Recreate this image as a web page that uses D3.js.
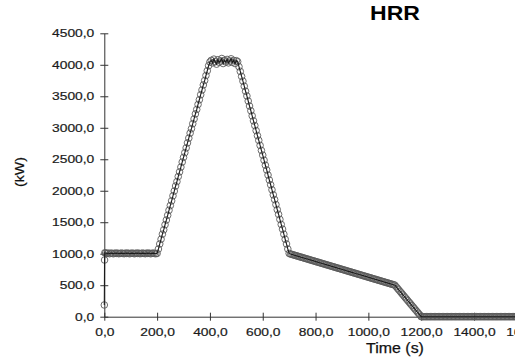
<!DOCTYPE html>
<html>
<head>
<meta charset="utf-8">
<script src="https://cdn.jsdelivr.net/npm/d3@7"></script>
<style>
  body { margin: 0; background: #fff; }
  svg { display: block; font-family: "Liberation Sans", Arial, sans-serif; }
</style>
</head>
<body>
<div id="chart"></div>
<script>
// HRR curve, time in seconds
const timeS = [
  0, 1, 2,
  5, 10, 15, 20, 25, 30, 35, 40, 45, 50, 55, 60, 65, 70, 75, 80, 85, 90, 95, 100,
  105, 110, 115, 120, 125, 130, 135, 140, 145, 150, 155, 160, 165, 170, 175, 180, 185, 190, 195, 200,
  205, 210, 215, 220, 225, 230, 235, 240, 245, 250, 255, 260, 265, 270, 275, 280, 285, 290, 295, 300,
  305, 310, 315, 320, 325, 330, 335, 340, 345, 350, 355, 360, 365, 370, 375, 380, 385, 390, 395, 400,
  405, 410, 415, 420, 425, 430, 435, 440, 445, 450, 455, 460, 465, 470, 475, 480, 485, 490, 495, 500, 505,
  510, 515, 520, 525, 530, 535, 540, 545, 550, 555, 560, 565, 570, 575, 580, 585, 590, 595, 600,
  605, 610, 615, 620, 625, 630, 635, 640, 645, 650, 655, 660, 665, 670, 675, 680, 685, 690, 695, 700,
  705, 710, 715, 720, 725, 730, 735, 740, 745, 750, 755, 760, 765, 770, 775, 780, 785, 790, 795, 800,
  805, 810, 815, 820, 825, 830, 835, 840, 845, 850, 855, 860, 865, 870, 875, 880, 885, 890, 895, 900,
  905, 910, 915, 920, 925, 930, 935, 940, 945, 950, 955, 960, 965, 970, 975, 980, 985, 990, 995, 1000,
  1005, 1010, 1015, 1020, 1025, 1030, 1035, 1040, 1045, 1050, 1055, 1060, 1065, 1070, 1075, 1080, 1085, 1090, 1095, 1100,
  1105, 1110, 1115, 1120, 1125, 1130, 1135, 1140, 1145, 1150, 1155, 1160, 1165, 1170, 1175, 1180, 1185, 1190, 1195, 1200,
  1205, 1210, 1215, 1220, 1225, 1230, 1235, 1240, 1245, 1250, 1255, 1260, 1265, 1270, 1275, 1280, 1285, 1290, 1295, 1300,
  1305, 1310, 1315, 1320, 1325, 1330, 1335, 1340, 1345, 1350, 1355, 1360, 1365, 1370, 1375, 1380, 1385, 1390, 1395, 1400,
  1405, 1410, 1415, 1420, 1425, 1430, 1435, 1440, 1445, 1450, 1455, 1460, 1465, 1470, 1475, 1480, 1485, 1490, 1495, 1500,
  1505, 1510, 1515, 1520, 1525, 1530, 1535, 1540, 1545, 1550, 1555, 1560, 1565, 1570, 1575, 1580, 1585, 1590, 1595, 1600
];

// heat release rate, kW
const hrrKW = [
  186, 900, 1015,
  1010, 1005, 1010, 1000, 1010, 1005, 1000, 1010, 1005, 1010, 1000, 1005, 1010, 1005, 1000, 1010, 1005, 1010, 1000, 1005,
  1010, 1005, 1000, 1010, 1005, 1010, 1000, 1005, 1010, 1005, 1000, 1010, 1005, 1010, 1000, 1005, 1010, 1005, 1000, 1005,
  1075, 1155, 1230, 1310, 1380, 1460, 1535, 1610, 1690, 1765, 1840, 1920, 1995, 2075, 2145, 2225, 2300, 2375, 2455, 2530,
  2605, 2680, 2760, 2835, 2915, 2985, 3065, 3140, 3220, 3290, 3370, 3445, 3525, 3600, 3680, 3750, 3830, 3905, 3985, 4045,
  4070, 4030, 4090, 4050, 4010, 4080, 4040, 4060, 4100, 4020, 4070, 4045, 4085, 4030, 4060, 4095, 4040, 4070, 4020, 4065, 4050,
  3970, 3895, 3815, 3740, 3660, 3580, 3505, 3425, 3345, 3270, 3190, 3110, 3035, 2955, 2875, 2800, 2720, 2640, 2565,
  2485, 2405, 2330, 2250, 2170, 2095, 2015, 1935, 1860, 1780, 1700, 1625, 1545, 1465, 1390, 1310, 1230, 1155, 1075, 1005,
  995, 990, 983, 977, 970, 965, 958, 952, 945, 940, 933, 927, 920, 915, 908, 902, 895, 890, 883, 877,
  870, 865, 858, 852, 845, 840, 833, 827, 820, 815, 808, 802, 795, 790, 783, 777, 770, 765, 758, 752,
  745, 740, 733, 727, 720, 715, 708, 702, 695, 690, 683, 677, 670, 665, 658, 652, 645, 640, 633, 627,
  620, 615, 608, 602, 595, 590, 583, 577, 570, 565, 558, 552, 545, 540, 533, 527, 520, 515, 508, 502,
  477, 452, 427, 402, 377, 352, 327, 302, 277, 252, 227, 202, 177, 152, 127, 102, 77, 52, 27, 0,
  0, 0, 0, 0, 0, 0, 0, 0, 0, 0, 0, 0, 0, 0, 0, 0, 0, 0, 0, 0,
  0, 0, 0, 0, 0, 0, 0, 0, 0, 0, 0, 0, 0, 0, 0, 0, 0, 0, 0, 0,
  0, 0, 0, 0, 0, 0, 0, 0, 0, 0, 0, 0, 0, 0, 0, 0, 0, 0, 0, 0,
  0, 0, 0, 0, 0, 0, 0, 0, 0, 0, 0, 0, 0, 0, 0, 0, 0, 0, 0, 0
];

const xTicks = [0, 200, 400, 600, 800, 1000, 1200, 1400, 1600];
const yTicks = [0, 500, 1000, 1500, 2000, 2500, 3000, 3500, 4000, 4500];

const width = 515;
const height = 359;

const fmt = v => d3.format(".1f")(v).replace(".", ",");

// the source picture is stretched sideways, so stretch glyphs the same way
function stretch(sel, k) {
  sel.each(function () {
    const w = this.getComputedTextLength();
    d3.select(this).attr("textLength", w * k).attr("lengthAdjust", "spacingAndGlyphs");
  });
}

const svg = d3.select("#chart").append("svg")
  .attr("width", width)
  .attr("height", height);

const x = d3.scaleLinear([0, 1600], [104.3, 526.8]);
const y = d3.scaleLinear([0, 4500], [316.7, 33.3]);

const data = timeS.map((t, i) => ({ t: t, v: hrrKW[i] }));

// y axis
const gY = svg.append("g")
  .attr("transform", `translate(${x(0)},0)`)
  .call(d3.axisLeft(y).tickValues(yTicks).tickFormat(fmt).tickSize(4).tickPadding(6).tickSizeOuter(0));
gY.select(".domain").attr("stroke", "#333");
gY.selectAll(".tick line").attr("x1", 4).attr("x2", -4).attr("stroke", "#333");
gY.selectAll(".tick text")
  .attr("font-size", 11.5)
  .attr("fill", "#1a1a1a")
  .attr("stroke", "#1a1a1a")
  .attr("stroke-width", 0.2)
  .call(stretch, 1.2);

// x axis
const gX = svg.append("g")
  .attr("transform", `translate(0,${y(0)})`)
  .call(d3.axisBottom(x).tickValues(xTicks).tickFormat(fmt).tickSize(4).tickPadding(7).tickSizeOuter(0));
gX.select(".domain").attr("stroke", "#333");
gX.selectAll(".tick line").attr("y1", -4).attr("y2", 4).attr("stroke", "#333");
gX.selectAll(".tick text")
  .attr("font-size", 11.5)
  .attr("fill", "#1a1a1a")
  .attr("stroke", "#1a1a1a")
  .attr("stroke-width", 0.2)
  .call(stretch, 1.2);

// markers
svg.append("g")
  .selectAll("circle")
  .data(data)
  .enter().append("circle")
  .attr("cx", d => x(d.t))
  .attr("cy", d => y(d.v))
  .attr("r", 3.3)
  .attr("fill", "none")
  .attr("stroke", "#5a5a5a")
  .attr("stroke-width", 0.9);

// connecting line
svg.append("path")
  .datum(data)
  .attr("fill", "none")
  .attr("stroke", "#1a1a1a")
  .attr("stroke-width", 1.1)
  .attr("d", d3.line().x(d => x(d.t)).y(d => y(d.v)));

// title and axis labels
svg.append("text")
  .attr("x", 395)
  .attr("y", 20)
  .attr("text-anchor", "middle")
  .attr("font-size", 20)
  .attr("font-weight", "bold")
  .attr("fill", "#000")
  .text("HRR")
  .call(stretch, 1.15);

svg.append("text")
  .attr("x", 395)
  .attr("y", 353)
  .attr("text-anchor", "middle")
  .attr("font-size", 14.5)
  .attr("fill", "#111")
  .attr("stroke", "#111")
  .attr("stroke-width", 0.25)
  .text("Time (s)")
  .call(stretch, 1.1);

svg.append("text")
  .attr("transform", "translate(24,172) rotate(-90)")
  .attr("text-anchor", "middle")
  .attr("font-size", 13.5)
  .attr("fill", "#111")
  .attr("stroke", "#111")
  .attr("stroke-width", 0.2)
  .text("(kW)")
  .call(stretch, 1.05);
</script>
</body>
</html>
